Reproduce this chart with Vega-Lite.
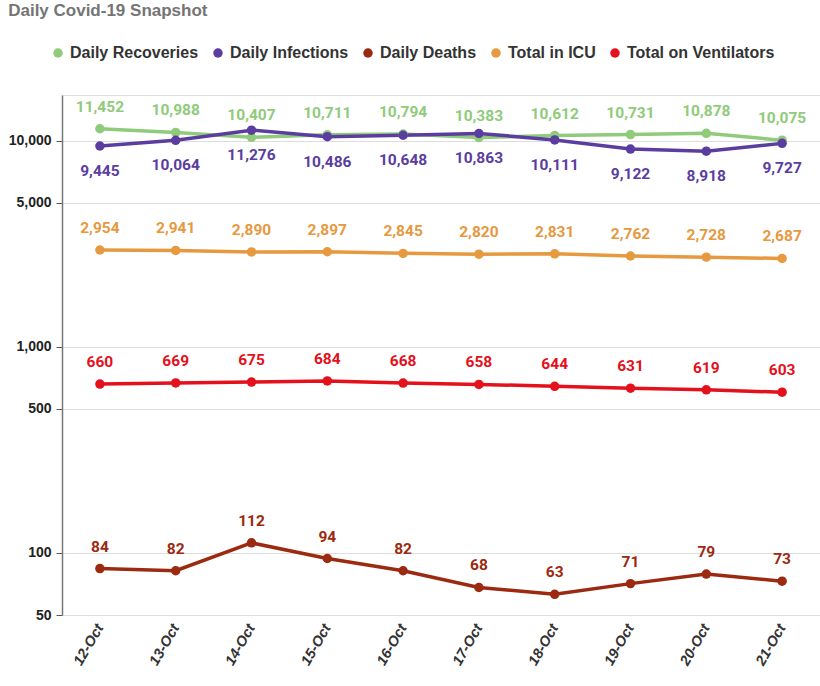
{
  "$schema": "https://vega.github.io/schema/vega-lite/v6.json",
  "autosize": {"type": "none"},
  "width": 758,
  "height": 520,
  "padding": {"left": 62, "top": 95, "right": 0, "bottom": 71},
  "background": "white",
  "title": {
    "text": "Daily Covid-19 Snapshot",
    "anchor": "start",
    "dx": 0,
    "dy": -21,
    "font": "Liberation Sans",
    "fontSize": 17,
    "fontWeight": "bold",
    "color": "#757575"
  },
  "data": {
    "values": [
      {"date": "12-Oct", "series": "Daily Recoveries", "value": 11452},
      {"date": "13-Oct", "series": "Daily Recoveries", "value": 10988},
      {"date": "14-Oct", "series": "Daily Recoveries", "value": 10407},
      {"date": "15-Oct", "series": "Daily Recoveries", "value": 10711},
      {"date": "16-Oct", "series": "Daily Recoveries", "value": 10794},
      {"date": "17-Oct", "series": "Daily Recoveries", "value": 10383},
      {"date": "18-Oct", "series": "Daily Recoveries", "value": 10612},
      {"date": "19-Oct", "series": "Daily Recoveries", "value": 10731},
      {"date": "20-Oct", "series": "Daily Recoveries", "value": 10878},
      {"date": "21-Oct", "series": "Daily Recoveries", "value": 10075},
      {"date": "12-Oct", "series": "Daily Infections", "value": 9445},
      {"date": "13-Oct", "series": "Daily Infections", "value": 10064},
      {"date": "14-Oct", "series": "Daily Infections", "value": 11276},
      {"date": "15-Oct", "series": "Daily Infections", "value": 10486},
      {"date": "16-Oct", "series": "Daily Infections", "value": 10648},
      {"date": "17-Oct", "series": "Daily Infections", "value": 10863},
      {"date": "18-Oct", "series": "Daily Infections", "value": 10111},
      {"date": "19-Oct", "series": "Daily Infections", "value": 9122},
      {"date": "20-Oct", "series": "Daily Infections", "value": 8918},
      {"date": "21-Oct", "series": "Daily Infections", "value": 9727},
      {"date": "12-Oct", "series": "Daily Deaths", "value": 84},
      {"date": "13-Oct", "series": "Daily Deaths", "value": 82},
      {"date": "14-Oct", "series": "Daily Deaths", "value": 112},
      {"date": "15-Oct", "series": "Daily Deaths", "value": 94},
      {"date": "16-Oct", "series": "Daily Deaths", "value": 82},
      {"date": "17-Oct", "series": "Daily Deaths", "value": 68},
      {"date": "18-Oct", "series": "Daily Deaths", "value": 63},
      {"date": "19-Oct", "series": "Daily Deaths", "value": 71},
      {"date": "20-Oct", "series": "Daily Deaths", "value": 79},
      {"date": "21-Oct", "series": "Daily Deaths", "value": 73},
      {"date": "12-Oct", "series": "Total in ICU", "value": 2954},
      {"date": "13-Oct", "series": "Total in ICU", "value": 2941},
      {"date": "14-Oct", "series": "Total in ICU", "value": 2890},
      {"date": "15-Oct", "series": "Total in ICU", "value": 2897},
      {"date": "16-Oct", "series": "Total in ICU", "value": 2845},
      {"date": "17-Oct", "series": "Total in ICU", "value": 2820},
      {"date": "18-Oct", "series": "Total in ICU", "value": 2831},
      {"date": "19-Oct", "series": "Total in ICU", "value": 2762},
      {"date": "20-Oct", "series": "Total in ICU", "value": 2728},
      {"date": "21-Oct", "series": "Total in ICU", "value": 2687},
      {"date": "12-Oct", "series": "Total on Ventilators", "value": 660},
      {"date": "13-Oct", "series": "Total on Ventilators", "value": 669},
      {"date": "14-Oct", "series": "Total on Ventilators", "value": 675},
      {"date": "15-Oct", "series": "Total on Ventilators", "value": 684},
      {"date": "16-Oct", "series": "Total on Ventilators", "value": 668},
      {"date": "17-Oct", "series": "Total on Ventilators", "value": 658},
      {"date": "18-Oct", "series": "Total on Ventilators", "value": 644},
      {"date": "19-Oct", "series": "Total on Ventilators", "value": 631},
      {"date": "20-Oct", "series": "Total on Ventilators", "value": 619},
      {"date": "21-Oct", "series": "Total on Ventilators", "value": 603}
    ]
  },
  "encoding": {
    "x": {
      "field": "date",
      "type": "ordinal",
      "sort": null,
      "scale": {"type": "point", "padding": 0.5},
      "axis": {
        "title": null,
        "labelAngle": -60,
        "labelFont": "Liberation Sans",
        "labelFontSize": 14.5,
        "labelFontWeight": "bold",
        "labelFontStyle": "italic",
        "labelColor": "#333333",
        "labelPadding": 10,
        "ticks": false,
        "domain": false,
        "grid": false
      }
    },
    "y": {
      "field": "value",
      "type": "quantitative",
      "scale": {"type": "log", "domain": [50, 16700], "nice": false},
      "axis": {
        "title": null,
        "values": [50, 100, 500, 1000, 5000, 10000],
        "format": ",d",
        "labelFont": "Liberation Sans",
        "labelFontSize": 14,
        "labelFontWeight": "bold",
        "labelColor": "#222222",
        "tickColor": "#555555",
        "tickSize": 6,
        "domainColor": "#777777",
        "domainWidth": 1.5,
        "gridColor": "#dddddd",
        "labelPadding": 5
      }
    },
    "color": {
      "field": "series",
      "type": "nominal",
      "scale": {
        "domain": ["Daily Recoveries", "Daily Infections", "Daily Deaths", "Total in ICU", "Total on Ventilators"],
        "range": ["#8fcb7a", "#5b3d9f", "#9b2a10", "#e6993e", "#e4101c"]
      },
      "legend": {
        "title": null,
        "orient": "none",
        "legendX": -12,
        "legendY": -50,
        "direction": "horizontal",
        "symbolType": "circle",
        "symbolSize": 90,
        "symbolStrokeWidth": 0,
        "labelFont": "Liberation Sans",
        "labelFontSize": 16,
        "labelFontWeight": "bold",
        "labelColor": "#333333",
        "columnPadding": 11,
        "labelOffset": 4
      }
    }
  },
  "layer": [
    {
      "mark": {"type": "line", "strokeWidth": 3.5, "point": {"size": 90, "filled": true}}
    },
    {
      "transform": [{"filter": "datum.series == 'Daily Infections'"}],
      "mark": {"type": "text", "dy": 25, "font": "Roboto", "fontSize": 15.5, "fontWeight": "bold"},
      "encoding": {"text": {"field": "value", "format": ",d"}}
    },
    {
      "transform": [{"filter": "datum.series != 'Daily Infections'"}],
      "mark": {"type": "text", "dy": -22, "font": "Roboto", "fontSize": 15.5, "fontWeight": "bold"},
      "encoding": {"text": {"field": "value", "format": ",d"}}
    }
  ]
}
